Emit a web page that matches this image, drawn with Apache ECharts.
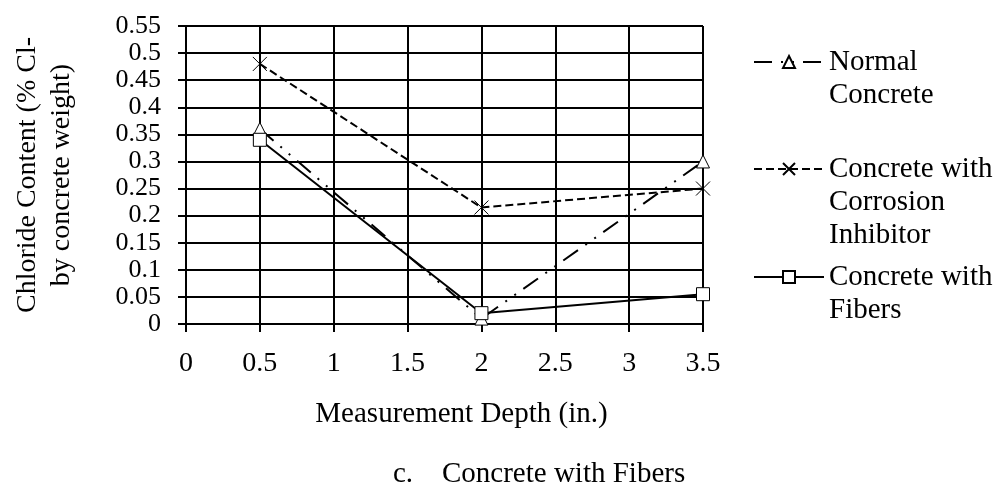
<!DOCTYPE html>
<html>
<head>
<meta charset="utf-8">
<script src="https://cdn.jsdelivr.net/npm/echarts@6/dist/echarts.min.js"></script>
<style>
html, body { margin: 0; padding: 0; background: #fff; }
#chart { width: 1004px; height: 498px; }
</style>
</head>
<body>
<div id="chart"></div>
<script>
// measurement depths (in.)
var depths = [0.5, 2, 3.5];
// chloride content, % Cl- by concrete weight
var normalConcrete = [0.36, 0.01, 0.3];
var corrosionInhibitor = [0.48, 0.215, 0.25];
var withFibers = [0.34, 0.02, 0.055];

var font = "'Liberation Serif', 'Times New Roman', serif";

function pairs(ys) {
  return depths.map(function (x, i) {
    return [x, ys[i]];
  });
}

// blank lines in front keep the icon level with the first text line
function legendFor(name, top) {
  var extra = name.split("\n").length - 1;
  return {
    data: [name],
    left: 753,
    top: top,
    padding: 0,
    itemWidth: 70,
    itemHeight: 15,
    formatter: function (n) {
      return new Array(extra + 1).join("\n") + n;
    },
    textStyle: { color: "#000", fontFamily: font, fontSize: 29, lineHeight: 33 }
  };
}

var myChart = echarts.init(document.getElementById("chart"));

var axisCommon = {
  axisLine: { show: true, lineStyle: { color: "#000", width: 2 } },
  axisTick: { show: true, inside: false, length: 8, lineStyle: { color: "#000", width: 2 } },
  splitLine: { show: true, lineStyle: { color: "#000", width: 2 } }
};

var option = {
  animation: false,
  backgroundColor: "#fff",
  title: {
    left: 388,
    top: 453,
    text: "{a|c.}{b|Concrete with Fibers}",
    textStyle: {
      fontWeight: "normal",
      rich: {
        a: { fontFamily: font, fontSize: 29, fontWeight: "normal", color: "#000", width: 49, lineHeight: 33 },
        b: { fontFamily: font, fontSize: 29, fontWeight: "normal", color: "#000", lineHeight: 33 }
      }
    }
  },
  grid: {
    left: 186,
    right: 301,
    top: 26,
    bottom: 174,
    containLabel: false
  },
  legend: [
    legendFor("Normal\nConcrete", 12.5),
    legendFor("Concrete with\nCorrosion\nInhibitor", 86.5),
    legendFor("Concrete with\nFibers", 227.5)
  ],
  xAxis: Object.assign({}, axisCommon, {
    type: "value",
    min: 0,
    max: 3.5,
    interval: 0.5,
    name: "Measurement Depth (in.)",
    nameLocation: "middle",
    nameGap: 74,
    nameTextStyle: { color: "#000", fontFamily: font, fontSize: 29, lineHeight: 33, padding: [0, 0, 0, 34] },
    axisLabel: { color: "#000", fontFamily: font, fontSize: 28, margin: 26, showMinLabel: true, showMaxLabel: true }
  }),
  yAxis: Object.assign({}, axisCommon, {
    type: "value",
    min: 0,
    max: 0.55,
    interval: 0.05,
    name: "Chloride Content (% Cl-\nby concrete weight)",
    nameLocation: "middle",
    nameRotate: 90,
    nameGap: 107,
    nameTextStyle: { color: "#000", fontFamily: font, fontSize: 28, lineHeight: 34 },
    // labels are packed tight; keep their boxes under the 27px step so none get dropped
    axisLabel: { color: "#000", fontFamily: font, fontSize: 26, lineHeight: 26, margin: 25, showMinLabel: true, showMaxLabel: true }
  }),
  series: [
    {
      name: "Normal\nConcrete",
      type: "line",
      data: pairs(normalConcrete),
      symbol: "triangle",
      symbolSize: 13,
      itemStyle: { color: "#fff", borderColor: "#000", borderWidth: 1 },
      lineStyle: { color: "#000", width: 2, type: [18, 9, 2, 9, 2, 9] },
      z: 3
    },
    {
      name: "Concrete with\nCorrosion\nInhibitor",
      type: "line",
      data: pairs(corrosionInhibitor),
      symbol: "path://M0,0L10,10M10,0L0,10",
      symbolSize: 14,
      itemStyle: { color: "none", borderColor: "#000", borderWidth: 1 },
      lineStyle: { color: "#000", width: 2, type: [8, 4] },
      z: 3
    },
    {
      name: "Concrete with\nFibers",
      type: "line",
      data: pairs(withFibers),
      symbol: "rect",
      symbolSize: 13,
      itemStyle: { color: "#fff", borderColor: "#000", borderWidth: 1 },
      lineStyle: { color: "#000", width: 2 },
      z: 4
    }
  ]
};

myChart.setOption(option);
window.onresize = myChart.resize;
</script>
</body>
</html>
